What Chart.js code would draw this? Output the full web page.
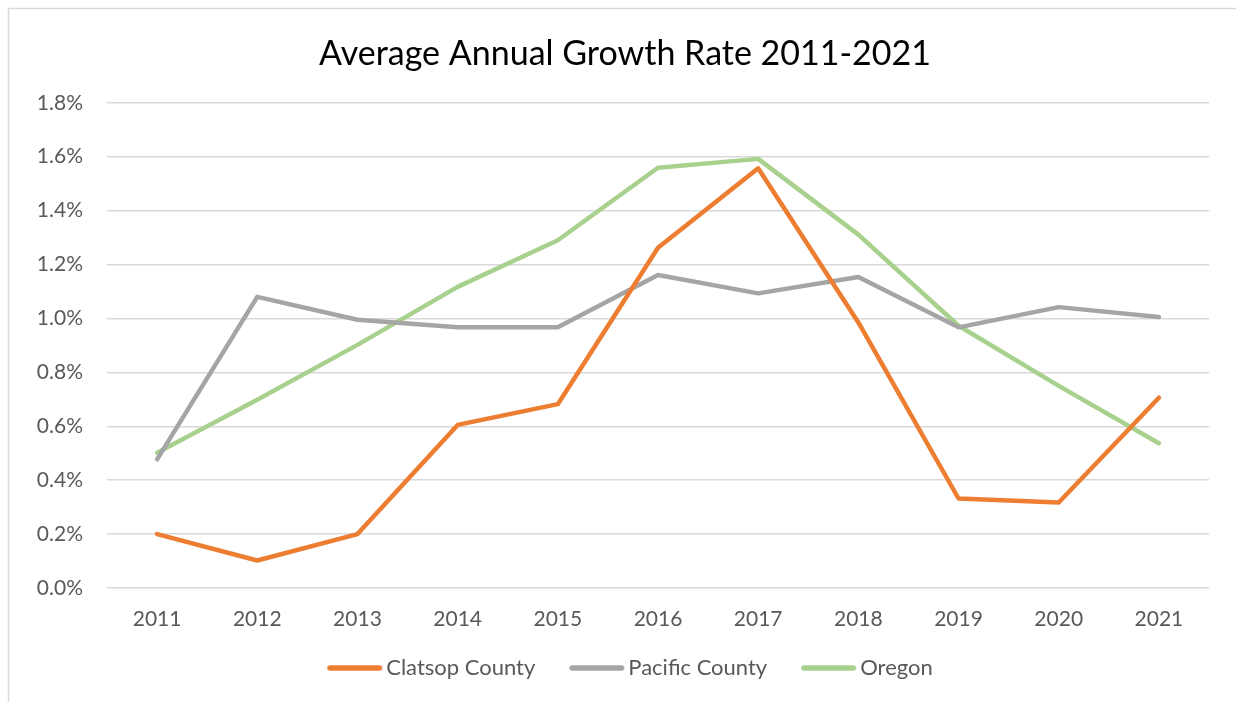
<!DOCTYPE html>
<html>
<head>
<meta charset="utf-8">
<script src="https://cdn.jsdelivr.net/npm/chart.js@4.4.1/dist/chart.umd.min.js"></script>
<style>
  html, body { margin: 0; padding: 0; background: #ffffff; }
  #wrap { width: 1236px; height: 702px; position: relative; }
</style>
</head>
<body>
<div id="wrap"><canvas id="c" width="1236" height="702"></canvas></div>
<script>
const years = ['2011','2012','2013','2014','2015','2016','2017','2018','2019','2020','2021'];
const clatsop = [0.200, 0.102, 0.200, 0.605, 0.682, 1.262, 1.557, 0.985, 0.332, 0.317, 0.706];
const pacific = [0.477, 1.080, 0.995, 0.967, 0.967, 1.161, 1.093, 1.154, 0.967, 1.042, 1.005];
const oregon  = [0.502, 0.698, 0.902, 1.117, 1.290, 1.559, 1.592, 1.311, 0.973, 0.750, 0.537];
const seriesNames = ['Clatsop County', 'Pacific County', 'Oregon'];
const titleText = 'Average Annual Growth Rate 2011-2021';
const yMin = 0, yMax = 1.8, yStep = 0.2;

const FONT = 'Lato, "Open Sans", sans-serif';
const TXT = '#595959';

const frame = {
  id: 'frame',
  beforeDraw(chart) {
    const ctx = chart.ctx;
    ctx.save();
    ctx.fillStyle = '#ffffff';
    ctx.fillRect(0, 0, chart.width, chart.height);
    ctx.strokeStyle = '#d9d9d9';
    ctx.lineWidth = 1.5;
    ctx.strokeRect(8.5, 8.5, 2000, 2000);
    ctx.restore();
  }
};

// legend marker: a short thick line with round caps, sitting in the right part of the marker box
function legendLine(color) {
  const c = document.createElement('canvas');
  c.width = 76; c.height = 10;
  const g = c.getContext('2d');
  g.strokeStyle = color;
  g.lineWidth = 5.5;
  g.lineCap = 'round';
  g.beginPath();
  g.moveTo(21.75, 5);
  g.lineTo(71.25, 5);
  g.stroke();
  return c;
}

function ds(label, data, color) {
  return {
    label, data,
    borderColor: color, backgroundColor: color,
    borderWidth: 4.5,
    borderCapStyle: 'round', borderJoinStyle: 'round',
    pointRadius: 0, pointHoverRadius: 0,
    pointStyle: legendLine(color),
    tension: 0, fill: false
  };
}

new Chart(document.getElementById('c'), {
  type: 'line',
  data: {
    labels: years,
    datasets: [
      ds(seriesNames[0], clatsop, '#ED7D31'),
      ds(seriesNames[1], pacific, '#A5A5A5'),
      ds(seriesNames[2], oregon, '#A9D18E')
    ]
  },
  options: {
    responsive: false,
    animation: false,
    devicePixelRatio: 1,
    layout: { padding: { left: 14, right: 0, top: 0, bottom: 13 } },
    plugins: {
      title: {
        display: true, text: titleText, color: '#000000',
        font: { family: FONT, size: 34, weight: 'normal' },
        padding: { top: 34, bottom: 28 }
      },
      legend: {
        display: true, position: 'bottom',
        labels: {
          color: TXT,
          font: { family: FONT, size: 22 },
          usePointStyle: true, pointStyleWidth: 58,
          padding: 24
        }
      },
      tooltip: { enabled: false }
    },
    scales: {
      x: {
        offset: true,
        grid: { display: false, drawTicks: false },
        border: { display: false },
        ticks: { color: TXT, font: { family: FONT, size: 21 }, padding: 19, maxRotation: 0 },
        afterFit(scale) { scale.height = 45; }
      },
      y: {
        min: yMin, max: yMax,
        grid: { color: '#d9d9d9', lineWidth: 1.5, drawTicks: false },
        border: { display: false },
        ticks: {
          stepSize: yStep, color: TXT, font: { family: FONT, size: 21 }, padding: 24,
          callback: v => v.toFixed(1) + '%'
        },
        afterFit(scale) { scale.width = 93; }
      },
      y2: {
        type: 'linear', position: 'right',
        grid: { display: false, drawTicks: false },
        border: { display: false },
        ticks: { display: false },
        afterFit(scale) { scale.width = 27; }
      }
    }
  },
  plugins: [frame]
});
</script>
</body>
</html>
